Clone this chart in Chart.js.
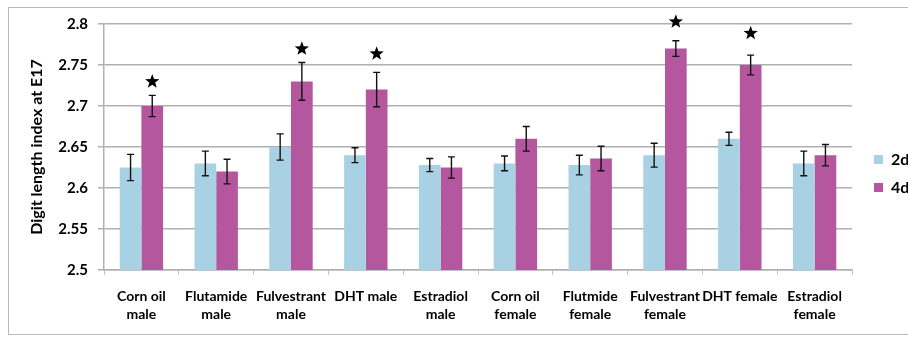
<!DOCTYPE html>
<html><head><meta charset="utf-8">
<script src="https://cdn.jsdelivr.net/npm/chart.js@4/dist/chart.umd.min.js"></script>
<style>
html,body{margin:0;padding:0;background:#fff;}
#wrap{position:relative;width:908px;height:337px;overflow:hidden;}
#frame{position:absolute;left:8px;top:7px;width:910px;height:328px;border:1.5px solid #b8b8b8;box-sizing:border-box;}
canvas{position:absolute;left:0;top:0;}
</style></head><body>
<div id="wrap"><div id="frame"></div><canvas id="c" width="908" height="337"></canvas></div>
<script>
// ---- data ----
const categories = [["Corn oil","male"],["Flutamide","male"],["Fulvestrant","male"],["DHT male"],["Estradiol","male"],["Corn oil","female"],["Flutmide","female"],["Fulvestrant","female"],["DHT female"],["Estradiol","female"]];
const seriesNames = ["2d","4d"];
const values2d = [2.625, 2.63, 2.65, 2.64, 2.628, 2.63, 2.628, 2.64, 2.66, 2.63];
const errors2d = [0.016, 0.015, 0.016, 0.009, 0.008, 0.009, 0.012, 0.0145, 0.008, 0.015];
const values4d = [2.70, 2.62, 2.73, 2.72, 2.625, 2.66, 2.636, 2.77, 2.75, 2.64];
const errors4d = [0.013, 0.015, 0.023, 0.021, 0.013, 0.015, 0.015, 0.0095, 0.012, 0.013];
const starValues4d = [2.731, null, 2.771, 2.765, null, null, null, 2.804, 2.790, null];
const yTicks = [2.5, 2.55, 2.6, 2.65, 2.7, 2.75, 2.8];
const yTitle = "Digit length index at E17";

const FONT = "Lato, 'Liberation Sans', sans-serif";

const errorBars = {
  id: 'errorBars',
  afterDatasetsDraw(chart) {
    const ctx = chart.ctx, ys = chart.scales.y;
    chart.data.datasets.forEach((ds, di) => {
      const meta = chart.getDatasetMeta(di);
      meta.data.forEach((bar, i) => {
        const v = ds.data[i], e = ds.errors[i];
        const yt = ys.getPixelForValue(v + e), yb = ys.getPixelForValue(v - e);
        ctx.save();
        ctx.strokeStyle = '#111'; ctx.lineWidth = 1.4;
        ctx.beginPath();
        ctx.moveTo(bar.x, yt); ctx.lineTo(bar.x, yb);
        ctx.moveTo(bar.x - 3.5, yt); ctx.lineTo(bar.x + 3.5, yt);
        ctx.moveTo(bar.x - 3.5, yb); ctx.lineTo(bar.x + 3.5, yb);
        ctx.stroke();
        ctx.restore();
      });
    });
  }
};

const stars = {
  id: 'stars',
  afterDatasetsDraw(chart) {
    const ctx = chart.ctx, ys = chart.scales.y;
    const meta = chart.getDatasetMeta(1);
    starValues4d.forEach((sv, i) => {
      if (sv == null) return;
      const cx = meta.data[i].x, cy = ys.getPixelForValue(sv);
      const R = 7.5, r = 3.1;
      ctx.save();
      ctx.fillStyle = '#000';
      ctx.beginPath();
      for (let k = 0; k < 10; k++) {
        const a = -Math.PI / 2 + k * Math.PI / 5;
        const rad = k % 2 === 0 ? R : r;
        const px = cx + rad * Math.cos(a), py = cy + 1 + rad * Math.sin(a);
        if (k === 0) ctx.moveTo(px, py); else ctx.lineTo(px, py);
      }
      ctx.closePath(); ctx.fill();
      ctx.restore();
    });
  }
};

const legendFix = {
  id: 'legendFix',
  beforeLayout(chart) {
    const lg = chart.legend;
    if (lg && !lg._patched) {
      const orig = lg.fit.bind(lg);
      lg.fit = function () { orig(); this.width = 56; };
      lg._patched = true;
    }
  },
  afterLayout(chart) {
    const lg = chart.legend;
    if (lg) { lg.left += 10; lg.right += 10; }
  }
};

new Chart(document.getElementById('c'), {
  type: 'bar',
  data: {
    labels: categories,
    datasets: [
      { label: seriesNames[0], data: values2d, errors: errors2d, backgroundColor: '#A8D2E3', borderWidth: 0 },
      { label: seriesNames[1], data: values4d, errors: errors4d, backgroundColor: '#B5579F', borderWidth: 0 }
    ]
  },
  options: {
    responsive: false,
    animation: false,
    layout: { padding: { left: 0, top: 24, right: 0, bottom: 14 } },
    datasets: { bar: { categoryPercentage: 0.58, barPercentage: 1.0 } },
    plugins: {
      tooltip: { enabled: false },
      legend: {
        position: 'right',
        align: 'center',
        labels: {
          boxWidth: 9, boxHeight: 9, padding: 12,
          color: '#000',
          font: { family: FONT, size: 16, weight: 'bold' }
        }
      }
    },
    scales: {
      x: {
        grid: { display: true, drawOnChartArea: false, tickLength: 5, color: '#c4c4c4', lineWidth: 1 },
        border: { display: true, color: '#b0b0b0', width: 1.5 },
        ticks: { color: '#000', padding: 12, maxRotation: 0, autoSkip: false, font: { family: FONT, size: 14, weight: 'bold', lineHeight: 1.3 } },
        afterFit(s) { s.height = 53; }
      },
      y: {
        min: 2.5, max: 2.8,
        afterBuildTicks(s) { s.ticks = yTicks.map(v => ({ value: v })); },
        grid: { color: '#b0b0b0', lineWidth: 1.5, tickLength: 6 },
        border: { display: true, color: '#b0b0b0', width: 1.5 },
        ticks: { color: '#000', padding: 10, font: { family: FONT, size: 15, weight: 'bold' },
          callback: v => String(parseFloat(Number(v).toFixed(2))) },
        title: { display: true, text: yTitle, color: '#000', padding: { top: 27, bottom: 0 }, font: { family: FONT, size: 16, weight: 'bold' } },
        afterFit(s) { s.width = 104; }
      }
    }
  },
  plugins: [errorBars, stars, legendFix]
});
</script>
</body></html>
